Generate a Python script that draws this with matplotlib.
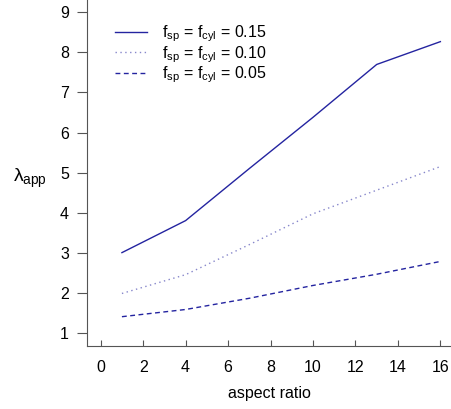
import matplotlib
matplotlib.use("Agg")
import matplotlib.pyplot as plt

plt.rcParams["font.family"] = ["Liberation Sans", "DejaVu Sans"]
plt.rcParams["mathtext.fontset"] = "custom"
plt.rcParams["mathtext.rm"] = "Liberation Sans"
plt.rcParams["mathtext.it"] = "Liberation Sans"

# aspect ratio values and apparent lambda for each volume fraction
aspect_ratio = [1, 4, 7, 10, 13, 16]
lam_015 = [3.0, 3.8, 5.1, 6.38, 7.7, 8.27]
lam_010 = [1.98, 2.45, 3.2, 3.97, 4.56, 5.15]
lam_005 = [1.4, 1.58, 1.86, 2.18, 2.46, 2.78]

labels = [r"f$_{\rm sp}$ = f$_{\rm cyl}$ = 0.15",
          r"f$_{\rm sp}$ = f$_{\rm cyl}$ = 0.10",
          r"f$_{\rm sp}$ = f$_{\rm cyl}$ = 0.05"]

COLOR = "#2424a0"
GREY = "#555555"

fig = plt.figure(figsize=(4.51, 4.09), dpi=100)
ax = fig.add_axes([87 / 451, 63 / 409, 1 - 87 / 451, 1 - 63 / 409])

ax.plot(aspect_ratio, lam_015, color=COLOR, linewidth=1.0, label=labels[0])
ax.plot(aspect_ratio, lam_010, color=COLOR, linewidth=1.0, alpha=0.55,
        linestyle=(0, (1, 2.5)), label=labels[1])
ax.plot(aspect_ratio, lam_005, color=COLOR, linewidth=1.0,
        linestyle=(0, (3.5, 2.5)), label=labels[2])

ax.set_xlim(-0.645, 16.5)
ax.set_ylim(0.668, 9.31)
ax.set_xticks(range(0, 17, 2))
ax.set_yticks(range(1, 10))

for side in ("top", "right"):
    ax.spines[side].set_visible(False)
for side in ("left", "bottom"):
    ax.spines[side].set_color(GREY)
    ax.spines[side].set_linewidth(0.8)

ax.tick_params(axis="y", direction="out", length=7, color=GREY, labelsize=11.5, pad=6)
ax.tick_params(axis="x", direction="in", length=4, color=GREY, labelsize=11.5, pad=10)

ax.set_xlabel("aspect ratio", fontsize=11.5, labelpad=8)
ax.set_ylabel(r"$\lambda_{\rm app}$", fontsize=14, rotation=0)
ax.yaxis.set_label_coords(-0.157, 0.45)

ax.legend(loc="upper left", bbox_to_anchor=(0.077, 0.932), frameon=False,
          fontsize=11.5, handlelength=2.0, handletextpad=0.95, labelspacing=0.0,
          borderpad=0, borderaxespad=0)

fig.savefig("out.png", dpi=100)
